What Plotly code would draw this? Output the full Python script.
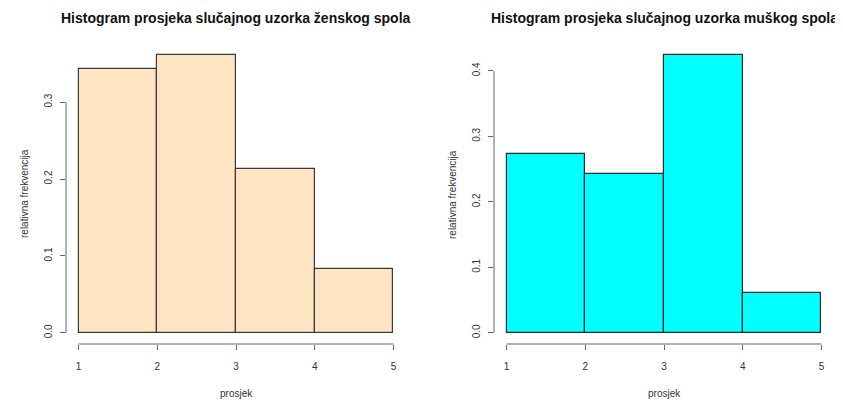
import plotly.graph_objects as go

# ---- data ----
bin_edges = [1, 2, 3, 4, 5]
female_relfreq = [0.343, 0.361, 0.213, 0.083]
male_relfreq = [0.273, 0.242, 0.424, 0.061]
female_yticks = [0.0, 0.1, 0.2, 0.3]
male_yticks = [0.0, 0.1, 0.2, 0.3, 0.4]
x_ticks = [1, 2, 3, 4, 5]
title_f = "Histogram prosjeka slučajnog uzorka ženskog spola"
title_m = "Histogram prosjeka slučajnog uzorka muškog spola"
x_title = "prosjek"
y_title = "relativna frekvencija"

# page body has an 8px margin; figure coordinates are screen minus 8
OFF = 8
W, H = 843 - OFF, 404 - OFF
FONT = "Liberation Sans, Arial, sans-serif"
AXIS_COL = "#666666"
TEXT_COL = "#333333"

centers = [(a + b) / 2 for a, b in zip(bin_edges[:-1], bin_edges[1:])]
widths = [b - a for a, b in zip(bin_edges[:-1], bin_edges[1:])]

def px_x(p):
    return (p - OFF) / W

def px_y(p):
    return 1 - (p - OFF) / H

ydom = [px_y(344), px_y(44)]
dom_l = [px_x(66), px_x(406)]
dom_r = [px_x(494), px_x(834)]

fig = go.Figure()
fig.add_trace(go.Bar(x=centers, y=female_relfreq, width=widths,
                     marker=dict(color="#FFE4C4", line=dict(color="#3a3a3a", width=1.2)),
                     xaxis="x", yaxis="y", showlegend=False, hoverinfo="skip"))
fig.add_trace(go.Bar(x=centers, y=male_relfreq, width=widths,
                     marker=dict(color="#00FFFF", line=dict(color="#2a2a2a", width=1.2)),
                     xaxis="x2", yaxis="y2", showlegend=False, hoverinfo="skip"))

xr = [bin_edges[0] - 0.04 * (bin_edges[-1] - bin_edges[0]),
      bin_edges[-1] + 0.04 * (bin_edges[-1] - bin_edges[0])]

def yrange(vals):
    m = max(vals)
    return [-0.04 * m, 1.04 * m]

tickfont = dict(family=FONT, size=10, color=TEXT_COL)
xcommon = dict(range=xr, tickvals=x_ticks, ticktext=[str(v) for v in x_ticks],
               ticks="outside", ticklen=5, tickcolor=AXIS_COL, tickwidth=1,
               showline=False, showgrid=False, zeroline=False, tickfont=tickfont,
               ticklabelstandoff=8, fixedrange=True)
ycommon = dict(ticks="outside", ticklen=5, tickcolor=AXIS_COL, tickwidth=1,
               showline=False, showgrid=False, zeroline=False, tickfont=tickfont,
               tickangle=-90, ticklabelstandoff=4, fixedrange=True)

fig.update_layout(
    width=W, height=H,
    margin=dict(l=0, r=0, t=0, b=0, autoexpand=False),
    paper_bgcolor="white", plot_bgcolor="white",
    bargap=0,
    xaxis=dict(domain=dom_l, anchor="y", **xcommon),
    yaxis=dict(domain=ydom, anchor="x", range=yrange(female_relfreq),
               tickvals=female_yticks, ticktext=[f"{v:.1f}" for v in female_yticks], **ycommon),
    xaxis2=dict(domain=dom_r, anchor="y2", **xcommon),
    yaxis2=dict(domain=ydom, anchor="x2", range=yrange(male_relfreq),
                tickvals=male_yticks, ticktext=[f"{v:.1f}" for v in male_yticks], **ycommon),
)

shapes = []
anns = []
for xa, ya, yt, dom, title in [("x", "y", female_yticks, dom_l, title_f),
                               ("x2", "y2", male_yticks, dom_r, title_m)]:
    shapes.append(dict(type="line", xref=xa, yref="paper", x0=x_ticks[0], x1=x_ticks[-1],
                       y0=ydom[0], y1=ydom[0], line=dict(color=AXIS_COL, width=1)))
    shapes.append(dict(type="line", xref="paper", yref=ya, x0=dom[0], x1=dom[0],
                       y0=yt[0], y1=yt[-1], line=dict(color=AXIS_COL, width=1)))
    cx = (dom[0] + dom[1]) / 2
    anns.append(dict(text=f"<b>{title}</b>", xref="paper", yref="paper", x=cx, y=px_y(18),
                     xanchor="center", yanchor="middle", showarrow=False,
                     font=dict(family=FONT, size=14, color="#111111")))
    anns.append(dict(text=x_title, xref="paper", yref="paper", x=cx, y=px_y(393),
                     xanchor="center", yanchor="middle", showarrow=False,
                     font=dict(family=FONT, size=10, color=TEXT_COL)))
    anns.append(dict(text=y_title, xref="paper", yref="paper", x=dom[0] - 42 / W,
                     y=(ydom[0] + ydom[1]) / 2, xanchor="center", yanchor="middle",
                     textangle=-90, showarrow=False,
                     font=dict(family=FONT, size=10, color=TEXT_COL)))

fig.update_layout(shapes=shapes, annotations=anns)
fig.write_html("out.html")
